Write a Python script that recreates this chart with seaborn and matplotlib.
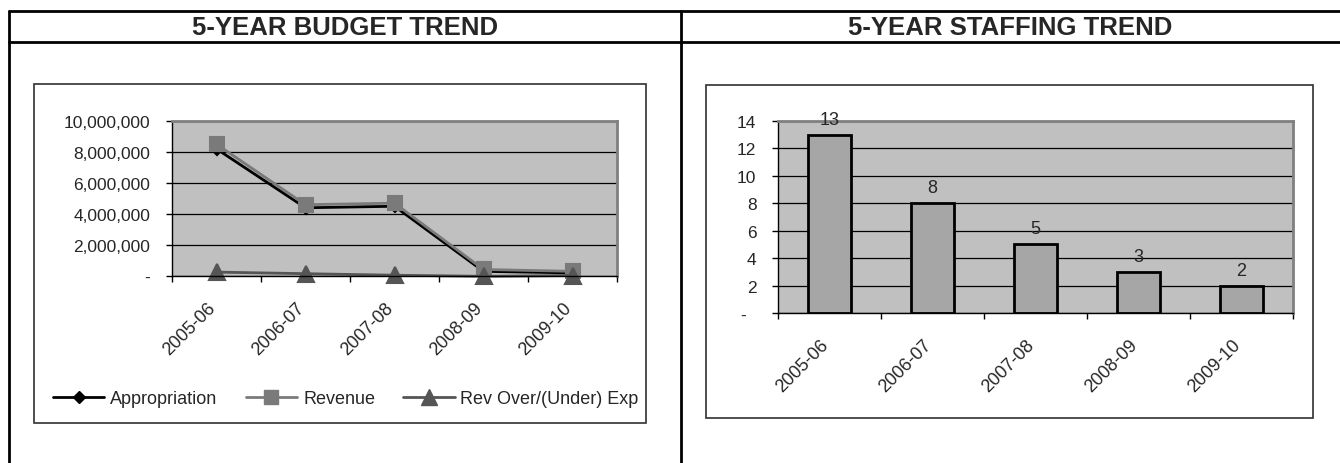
import matplotlib
matplotlib.use("Agg")
import matplotlib.pyplot as plt
import matplotlib.transforms as mtransforms
from matplotlib.lines import Line2D
from matplotlib.patches import Rectangle
from matplotlib.ticker import FuncFormatter, MultipleLocator, FixedLocator
import seaborn as sns

# data
years = ["2005-06", "2006-07", "2007-08", "2008-09", "2009-10"]
appropriation = [8200000, 4400000, 4500000, 300000, 200000]
revenue = [8500000, 4600000, 4700000, 420000, 300000]
rev_over_under = [250000, 150000, 50000, -20000, 30000]
staff = [13, 8, 5, 3, 2]

sns.set_style("white")
plt.rcParams["font.family"] = ["Liberation Sans", "DejaVu Sans"]
FS = 12.5

W, H = 1340, 464
fig = plt.figure(figsize=(W / 100, H / 100), dpi=100)


def fx(px):
    return px / W


def fy(py):
    return 1 - py / H


# table frame
def hline(x0, x1, y, lw=2):
    fig.add_artist(Line2D([fx(x0), fx(x1)], [fy(y), fy(y)], color="black", lw=lw))


def vline(x, y0, y1, lw=2):
    fig.add_artist(Line2D([fx(x), fx(x)], [fy(y0), fy(y1)], color="black", lw=lw))


hline(9, W, 12)
hline(9, W, 43)
vline(9, 12, H)
vline(681, 12, H)
fig.text(fx(345), fy(28), "5-YEAR BUDGET TREND", ha="center", va="center",
         fontsize=18.5, fontweight="bold")
fig.text(fx(1010), fy(28), "5-YEAR STAFFING TREND", ha="center", va="center",
         fontsize=18.5, fontweight="bold")

# chart boxes
for x0, y0, x1, y1 in [(34, 85, 646, 424), (706, 86, 1313, 419)]:
    fig.add_artist(Rectangle((fx(x0), fy(y1)), fx(x1) - fx(x0), fy(y0) - fy(y1),
                             transform=fig.transFigure, fill=False,
                             edgecolor="#303030", lw=1.2))


def style_axes(ax, ymax, step, fmt):
    ax.set_facecolor("#C0C0C0")
    ax.set_xlim(-0.5, len(years) - 0.5)
    ax.set_ylim(0, ymax)
    ax.yaxis.set_major_locator(MultipleLocator(step))
    ax.yaxis.set_major_formatter(FuncFormatter(fmt))
    ax.yaxis.grid(True, color="black", lw=0.9)
    ax.set_axisbelow(True)
    for s in ["top", "right"]:
        ax.spines[s].set_color("#808080")
        ax.spines[s].set_linewidth(2)
    for s in ["left", "bottom"]:
        ax.spines[s].set_color("black")
        ax.spines[s].set_linewidth(1)
    ax.tick_params(axis="y", which="major", left=True, length=4.5, width=1,
                   color="black", labelsize=FS, pad=11)
    ax.xaxis.set_minor_locator(FixedLocator([i - 0.5 for i in range(len(years) + 1)]))
    ax.tick_params(axis="x", which="minor", bottom=True, length=4.5, width=1, color="black")
    ax.tick_params(axis="x", which="major", length=0, labelsize=13, pad=21)
    ax.set_xlabel("")
    ax.set_ylabel("")
    offset = mtransforms.ScaledTranslation(-4 / 100, 0, fig.dpi_scale_trans)
    for lab in ax.get_xticklabels():
        lab.set_rotation(45)
        lab.set_ha("right")
        lab.set_va("center")
        lab.set_rotation_mode("anchor")
        lab.set_transform(lab.get_transform() + offset)


# left: budget trend
ax1 = fig.add_axes([fx(172), fy(277), fx(617) - fx(172), fy(122) - fy(277)])
series = [
    (appropriation, "Appropriation", "black", "D", 6),
    (revenue, "Revenue", "#7A7A7A", "s", 10),
    (rev_over_under, "Rev Over/(Under) Exp", "#555555", "^", 11),
]
handles = []
for vals, name, col, mk, ms in series:
    sns.pointplot(x=years, y=vals, ax=ax1, color=col, markers=mk, errorbar=None,
                  markersize=ms, linewidth=2, clip_on=False)
    handles.append(Line2D([], [], color=col, marker=mk, markersize=ms, lw=2, label=name))
style_axes(ax1, 10000000, 2000000, lambda v, p: "-" if v == 0 else f"{v:,.0f}")

fig.legend(handles=handles, loc="center left", bbox_to_anchor=(fx(44), fy(400)),
           ncol=3, frameon=False, fontsize=13, borderpad=0, handlelength=2.85,
           handletextpad=0.33, columnspacing=1.55)

# right: staffing trend
ax2 = fig.add_axes([fx(778), fy(314), fx(1293) - fx(778), fy(122) - fy(314)])
sns.barplot(x=years, y=staff, ax=ax2, color="#A6A6A6", saturation=1,
            edgecolor="black", linewidth=2, width=0.41)
ax2.bar_label(ax2.containers[0], fontsize=13, padding=5)
style_axes(ax2, 14, 2, lambda v, p: "-  " if v == 0 else f"{v:.0f}")

fig.savefig("out.png", dpi=100)
